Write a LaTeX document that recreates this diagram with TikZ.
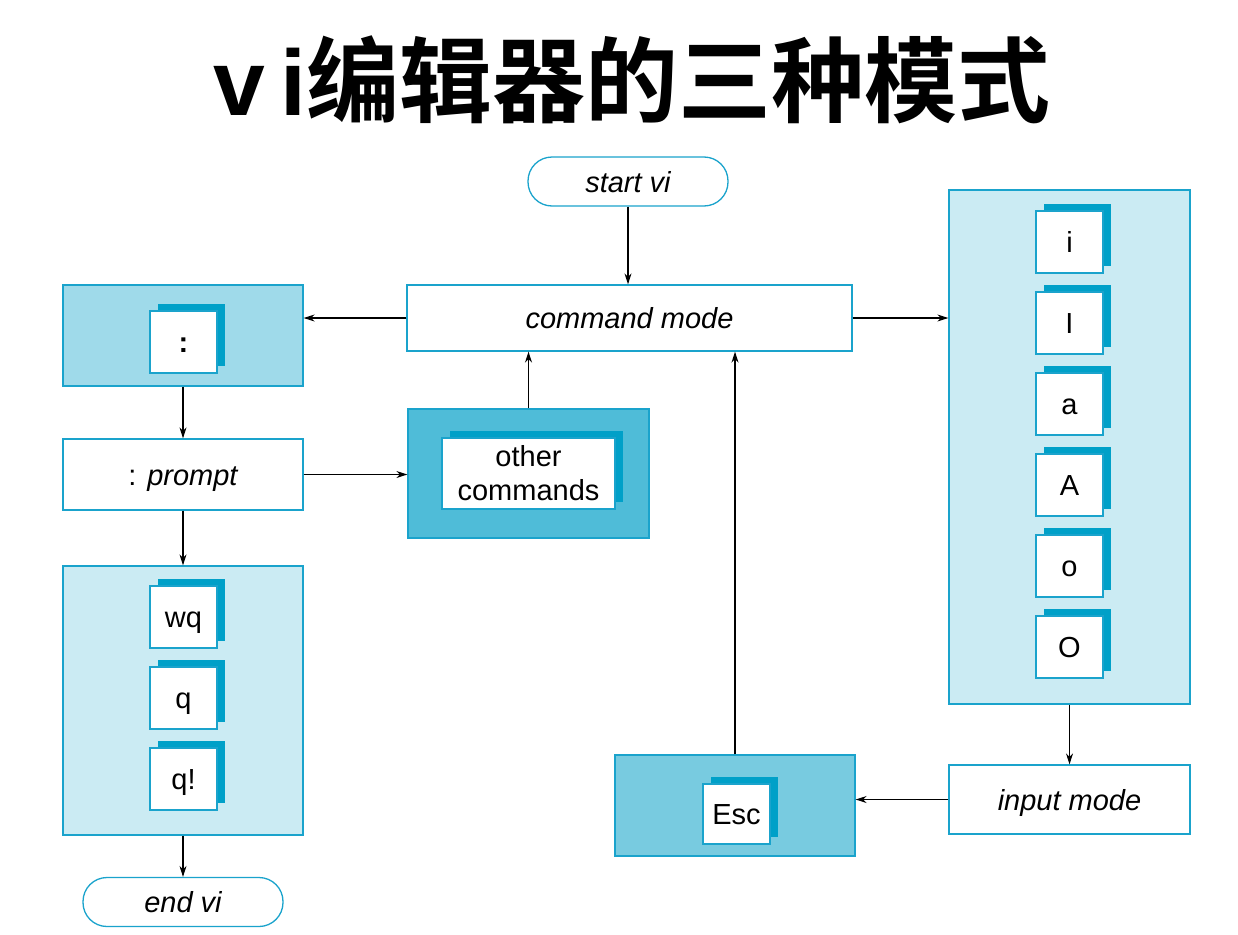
\documentclass[tikz,border=0pt]{standalone}
\usepackage{fontspec}
\setmainfont{Liberation Sans}
\newfontfamily\cjk{Noto Sans CJK SC}[BoldFont={Noto Sans CJK SC Bold}]
\usetikzlibrary{arrows.meta,shadows}
\definecolor{edgeblue}{HTML}{1AA3CC}
\definecolor{paleblue}{HTML}{CBEBF3}
\definecolor{midblue}{HTML}{9FDAEA}
\definecolor{deepblue}{HTML}{4FBCD8}
\definecolor{escblue}{HTML}{78CBE0}
\definecolor{shadeblue}{HTML}{00A0C8}
\tikzset{
    x=1pt,y=-1pt,
    every node/.style={font=\fontsize{29}{34}\selectfont},
    group/.style={draw=edgeblue,line width=1.3pt,inner sep=0pt},
    modebox/.style={draw=edgeblue,line width=1.3pt,fill=white,inner sep=0pt,
        text height=21pt,text depth=0pt},
    pill/.style={modebox,rounded corners=24pt,minimum width=200pt,minimum height=49pt},
    keycap/.style={draw=edgeblue,line width=1.3pt,fill=white,inner sep=0pt,
        minimum width=67pt,minimum height=62pt,text height=21pt,text depth=0pt,
        copy shadow={shadow xshift=8pt,shadow yshift=7pt,fill=shadeblue,draw=none}},
    arr/.style={line width=1.2pt,-{Stealth[length=11pt,width=7pt]}}
}
\newcommand{\keycap}[4]{
    \node[keycap] (#1) at (#2,#3) {#4};
}
\begin{document}
\begin{tikzpicture}
\useasboundingbox (0,0) rectangle (1238,934);
% title
\node (title) at (632,80) {\fontsize{93}{98}\selectfont\bfseries v\,i\cjk 编辑器的三种模式};
% modes
\node[pill] (start) at (628,181.5) {\itshape start vi};
\node[modebox,minimum width=445pt,minimum height=66pt] (cmd) at (629.5,318) {\itshape command mode};
\node[modebox,minimum width=240pt,minimum height=71pt] (prompt) at (183,474.5) {: \itshape prompt};
\node[pill] (endvi) at (183,902) {\itshape end vi};
\node[modebox,minimum width=241pt,minimum height=69pt] (input) at (1069.5,799.5) {\itshape input mode};
% key groups
\node[group,fill=midblue,minimum width=240pt,minimum height=101pt] (colon) at (183,335.5) {};
\keycap{colonkey}{183.5}{342}{\textbf{:}}
\node[group,fill=deepblue,minimum width=241pt,minimum height=129pt] (other) at (528.5,473.5) {};
\node[keycap,minimum width=173pt,minimum height=71pt,align=center,
    text height=,text depth=] (otherkey) at (528.5,473.5) {other\\commands};
\node[group,fill=paleblue,minimum width=240pt,minimum height=269pt] (quit) at (183,700.5) {};
\foreach \k/\t[count=\i] in {wq/wq,q/q,qx/q!}{
    \keycap{\k}{183.5}{536+81*\i}{\t}
}
\node[group,fill=paleblue,minimum width=241pt,minimum height=514pt] (ins) at (1069.5,447) {};
\foreach \k/\t[count=\i] in {i/i,I/I,a/a,A/A,o/o,O/O}{
    \keycap{key\k}{1069.5}{161+81*\i}{\t}
}
\node[group,fill=escblue,minimum width=240pt,minimum height=101pt] (esc) at (735,805.5) {};
\node[keycap,minimum height=60pt] (esckey) at (736.5,814) {Esc};
% connectors
\draw[arr] (start.south) -- (start.south |- cmd.north);
\draw[arr] (cmd.west) -- (cmd.west -| colon.east);
\draw[arr] (cmd.east) -- (cmd.east -| ins.west);
\draw[arr] (colon.south) -- (prompt.north);
\draw[arr] (prompt.east) -- (prompt.east -| other.west);
\draw[arr] (other.north) -- (other.north |- cmd.south);
\draw[arr] (prompt.south) -- (quit.north);
\draw[arr] (quit.south) -- (endvi.north);
\draw[arr] (ins.south) -- (input.north);
\draw[arr] (input.west) -- (input.west -| esc.east);
\draw[arr] (esc.north) -- (esc.north |- cmd.south);
\end{tikzpicture}
\end{document}
